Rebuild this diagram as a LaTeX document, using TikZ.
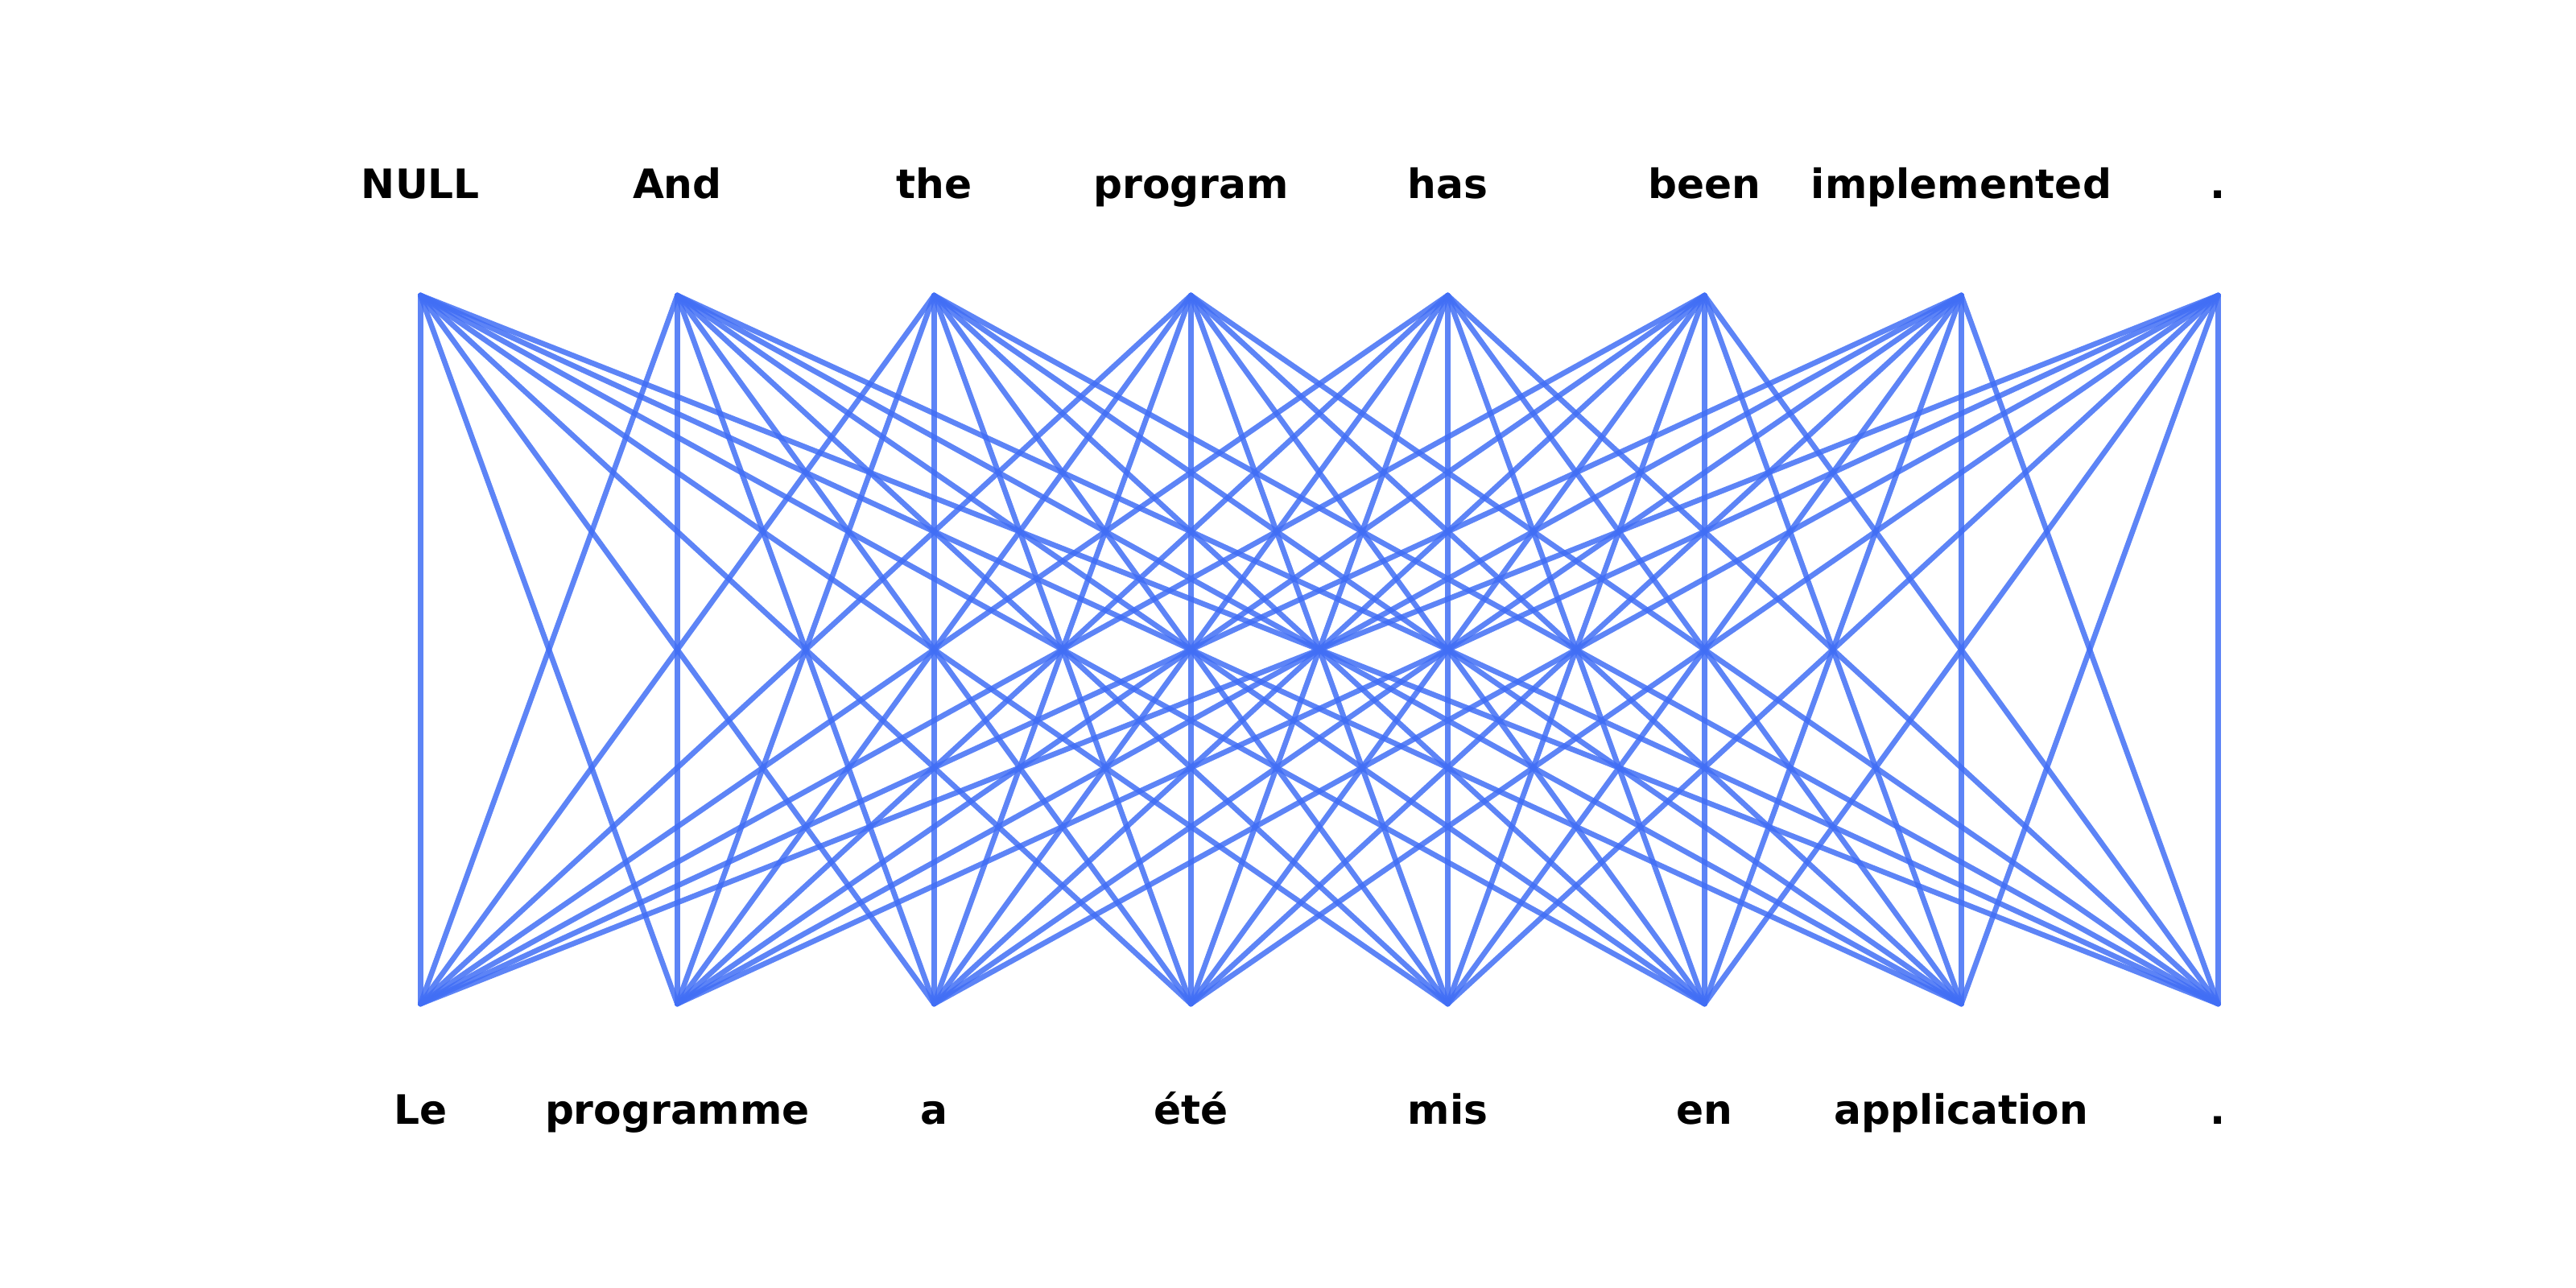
\documentclass[tikz,border=0pt]{standalone}
\usepackage{fontspec}
\setmainfont{DejaVu Sans}
\definecolor{linkblue}{RGB}{65,110,245}
\begin{document}
\begin{tikzpicture}[
  word/.style={font=\bfseries\fontsize{14.3}{16}\selectfont, anchor=base, inner sep=0pt},
  link/.style={draw=linkblue, line width=1.9pt, opacity=0.85, line cap=round}
]
\useasboundingbox (0,0) rectangle (32,16);
\foreach \w [count=\i from 0] in {NULL,And,the,program,has,been,implemented,.}{
  \coordinate (t\i) at ({5.224+3.19*\i},12.33);
  \node[word] (tw\i) at ({5.224+3.19*\i},13.53) {\w};
}
\foreach \w [count=\i from 0] in {Le,programme,a,été,mis,en,application,.}{
  \coordinate (b\i) at ({5.224+3.19*\i},3.53);
  \node[word] (bw\i) at ({5.224+3.19*\i},2.03) {\w};
}
\foreach \i in {0,...,7}{
  \foreach \j in {0,...,7}{
    \draw[link] (t\i) -- (b\j);
  }
}
\end{tikzpicture}
\end{document}
